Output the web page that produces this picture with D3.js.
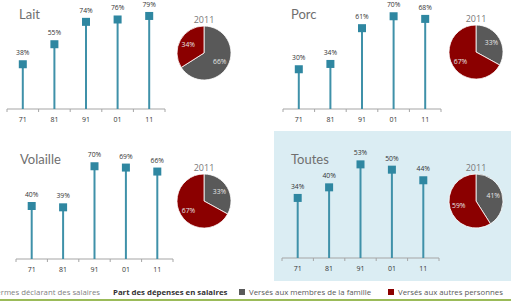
<!DOCTYPE html>
<html>
<head>
<meta charset="utf-8">
<script src="https://cdn.jsdelivr.net/npm/d3@7"></script>
<style>
  body { margin: 0; background: #fff; }
  svg { display: block; font-family: "Open Sans", Lato, sans-serif; }
</style>
</head>
<body>
<div id="chart"></div>
<script>
var width = 511,
    height = 302;

// data
var years = ["71", "81", "91", "01", "11"];
var names = ["Lait", "Porc", "Volaille", "Toutes"];
var lait = [38, 55, 74, 76, 79];
var porc = [30, 34, 61, 70, 68];
var volaille = [40, 39, 70, 69, 66];
var toutes = [34, 40, 53, 50, 44];
var yMax = [90, 80, 80, 60];
// 2011 split: [famille, autres]
var pieLait = [66, 34];
var piePorc = [33, 67];
var pieVolaille = [33, 67];
var pieToutes = [41, 59];
var legendLabels = ["Versés aux membres de la famille", "Versés aux autres personnes"];

var series = [lait, porc, volaille, toutes];
var pies = [pieLait, piePorc, pieVolaille, pieToutes];

// panel layout
var panels = [
  { x0: 7,   x1: 165, base: 109, tx: 19,  ty: 19,  cx: 204, cy: 53 },
  { x0: 283, x1: 441, base: 109, tx: 291, ty: 19,  cx: 476, cy: 52 },
  { x0: 16,  x1: 173, base: 259, tx: 20,  ty: 164, cx: 204, cy: 201 },
  { x0: 282, x1: 439, base: 258, tx: 291, ty: 164, cx: 476, cy: 201 }
];

var stemColor = "#3f91a9",
    markColor = "#2f87a1",
    famColor = "#595959",
    autColor = "#8b0000";

var svg = d3.select("#chart").append("svg")
    .attr("width", width)
    .attr("height", height);

// highlighted panel background
svg.append("rect")
    .attr("x", 274).attr("y", 131)
    .attr("width", width - 274).attr("height", 150)
    .attr("fill", "#dbedf3");

var pie = d3.pie().sort(null).value(function(d) { return d; });
var arc = d3.arc().innerRadius(0).outerRadius(27);
var labelArc = d3.arc().innerRadius(18).outerRadius(18);

panels.forEach(function(p, k) {
  var g = svg.append("g");

  var x = d3.scaleBand().domain(years).range([p.x0, p.x1]);
  var y = d3.scaleLinear().domain([0, yMax[k]]).range([p.base, p.base - 106]);

  g.append("text")
      .attr("x", p.tx).attr("y", p.ty)
      .attr("font-family", "Lato, sans-serif")
      .attr("font-size", 13)
      .attr("fill", "#6f6f6f")
      .text(names[k]);

  // axis
  var axis = d3.axisBottom(x).tickSize(0).tickPadding(8);
  var ax = g.append("g")
      .attr("transform", "translate(0," + p.base + ")")
      .call(axis);
  ax.select(".domain").remove();
  ax.selectAll("text")
      .attr("font-size", 7)
      .attr("font-family", "'Open Sans', sans-serif")
      .attr("fill", "#333");
  ax.append("line")
      .attr("x1", p.x0).attr("x2", p.x1)
      .attr("stroke", "#a6a6a6").attr("stroke-width", 1.2);
  ax.selectAll(".sep")
      .data(d3.range(years.length + 1))
    .enter().append("line")
      .attr("class", "sep")
      .attr("x1", function(i) { return p.x0 + i * x.step(); })
      .attr("x2", function(i) { return p.x0 + i * x.step(); })
      .attr("y1", 0).attr("y2", 3)
      .attr("stroke", "#a6a6a6");

  var cx = function(d, i) { return x(years[i]) + x.bandwidth() / 2; };

  g.selectAll(".stem")
      .data(series[k])
    .enter().append("line")
      .attr("class", "stem")
      .attr("x1", cx).attr("x2", cx)
      .attr("y1", p.base)
      .attr("y2", function(d) { return y(d); })
      .attr("stroke", stemColor)
      .attr("stroke-width", 2);

  g.selectAll(".mark")
      .data(series[k])
    .enter().append("rect")
      .attr("class", "mark")
      .attr("x", function(d, i) { return cx(d, i) - 4; })
      .attr("y", function(d) { return y(d) - 4; })
      .attr("width", 8).attr("height", 8)
      .attr("fill", markColor);

  g.selectAll(".val")
      .data(series[k])
    .enter().append("text")
      .attr("class", "val")
      .attr("x", cx)
      .attr("y", function(d) { return y(d) - 9; })
      .attr("text-anchor", "middle")
      .attr("font-size", 6.8)
      .attr("fill", "#333")
      .text(function(d) { return d + "%"; });

  // pie for 2011
  var pg = g.append("g")
      .attr("transform", "translate(" + p.cx + "," + p.cy + ")");

  pg.append("text")
      .attr("y", -30)
      .attr("text-anchor", "middle")
      .attr("font-size", 9)
      .attr("fill", "#777")
      .text("2011");

  var slices = pie(pies[k]);
  pg.selectAll("path")
      .data(slices)
    .enter().append("path")
      .attr("d", arc)
      .attr("fill", function(d, i) { return i == 0 ? famColor : autColor; })
      .attr("stroke", "#fff")
      .attr("stroke-width", 0.8);

  pg.selectAll(".pl")
      .data(slices)
    .enter().append("text")
      .attr("class", "pl")
      .attr("transform", function(d) { return "translate(" + labelArc.centroid(d) + ")"; })
      .attr("dy", "0.35em")
      .attr("text-anchor", "middle")
      .attr("font-size", 6.8)
      .attr("fill", "#e6e6e6")
      .text(function(d) { return d.data + "%"; });
});

// legend
var leg = svg.append("g")
    .attr("font-size", 7.8)
    .attr("fill", "#595959");

leg.append("text")
    .attr("x", 100).attr("y", 295)
    .attr("text-anchor", "end")
    .attr("fill", "#7f7f7f")
    .text("Fermes déclarant des salaires");

leg.append("text")
    .attr("x", 113).attr("y", 295)
    .attr("font-weight", "bold")
    .attr("fill", "#333")
    .text("Part des dépenses en salaires");

leg.append("rect")
    .attr("x", 239).attr("y", 289).attr("width", 6).attr("height", 6)
    .attr("fill", famColor);
leg.append("text")
    .attr("x", 249).attr("y", 295)
    .text(legendLabels[0]);

leg.append("rect")
    .attr("x", 388).attr("y", 289).attr("width", 6).attr("height", 6)
    .attr("fill", autColor);
leg.append("text")
    .attr("x", 398).attr("y", 295)
    .text(legendLabels[1]);

svg.append("line")
    .attr("x1", 0).attr("x2", width)
    .attr("y1", 300).attr("y2", 300)
    .attr("stroke", "#9bbb59")
    .attr("stroke-width", 2);
</script>
</body>
</html>
